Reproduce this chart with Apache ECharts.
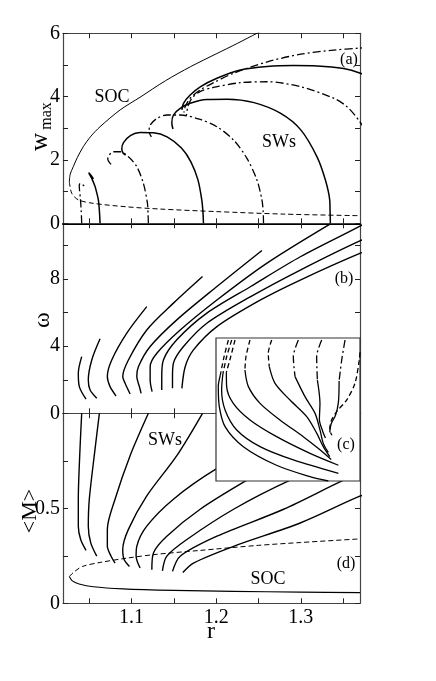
<!DOCTYPE html>
<html><head><meta charset="utf-8">
<script src="https://cdn.jsdelivr.net/npm/echarts@6/dist/echarts.min.js"></script>
<style>html,body{margin:0;padding:0;background:#fff}#c{width:436px;height:681px}</style>
</head><body><div id="c"></div>
<script>
// ---------- axis ticks / labels ----------
const rTicks = [1.05, 1.10, 1.15, 1.20, 1.25, 1.30, 1.35];
const rLabels = [1.1, 1.2, 1.3];
const wTicks = [0, 1, 2, 3, 4, 5, 6];
const wLabels = [0, 2, 4, 6];
const omTicks = [0, 2, 4, 6, 8, 10];
const omLabels = [0, 4, 8];
const mTicks = [0, 0.25, 0.5, 0.75];
const mLabels = [0, 0.5];

// ---------- panel (a): w_max vs r ----------
const socA_upper = [[1.0265,1.31],[1.0275,1.55],[1.0312,1.79],[1.036,2.08],[1.043,2.42],[1.052,2.75],[1.0628,3.05],[1.0865,3.58],[1.11,3.98],[1.14,4.5],[1.17,4.95],[1.2,5.35],[1.225,5.68],[1.2482,6.0],[1.26,6.15]];
const socA_lower = [[1.0265,1.31],[1.0293,0.95],[1.0371,0.74],[1.0549,0.63],[1.0944,0.52],[1.1338,0.45],[1.2,0.37],[1.28,0.29],[1.37,0.24]];
const swA1 = [[1.0411,0],[1.0405,0.4],[1.0395,0.8],[1.0385,1.05],[1.0382,1.2],[1.0395,1.26],[1.043,1.2],[1.046,1.14]];
const swA2 = [[1.0628,0],[1.0620,0.4],[1.0608,0.74],[1.0585,1.0],[1.0569,1.16],[1.053,1.42],[1.050,1.56],[1.0495,1.6],[1.052,1.52],[1.055,1.40]];
const swA3 = [[1.1199,0],[1.1195,0.3],[1.1188,0.63],[1.114,1.26],[1.1062,1.79],[1.0963,2.10],[1.0865,2.26],[1.0785,2.26],[1.0735,2.15],[1.0719,2.02],[1.0745,1.90],[1.0775,1.82]];
const swA4 = [[1.185,0],[1.1843,0.4],[1.183,0.74],[1.1785,1.37],[1.170,1.95],[1.159,2.38],[1.142,2.73],[1.126,2.86],[1.110,2.87],[1.099,2.78],[1.0905,2.55],[1.0885,2.35],[1.090,2.22],[1.093,2.15]];
const swA5 = [[1.256,0],[1.2555,0.4],[1.2541,0.74],[1.2482,1.37],[1.2364,2.05],[1.2206,2.63],[1.2009,3.05],[1.1812,3.28],[1.1575,3.42],[1.1417,3.42],[1.1299,3.31],[1.1220,3.10],[1.1208,2.89],[1.1235,2.73]];
const swA6 = [[1.335,0],[1.3346,0.4],[1.3342,0.74],[1.3291,1.37],[1.3192,2.10],[1.300,2.95],[1.2763,3.47],[1.2448,3.81],[1.2134,3.92],[1.189,3.91],[1.1693,3.79],[1.1575,3.63],[1.1495,3.42],[1.1476,3.16],[1.149,2.98]];
const swA7 = [[1.375,3.0],[1.3685,3.26],[1.3548,3.68],[1.3389,3.95],[1.30,4.31],[1.2606,4.47],[1.2285,4.44],[1.1969,4.29],[1.181,4.16],[1.1713,3.95],[1.1665,3.68],[1.165,3.42]];
const swA8 = [[1.38,4.6],[1.3705,4.74],[1.3507,4.89],[1.3192,4.97],[1.2915,4.98],[1.2601,4.95],[1.2285,4.84],[1.2009,4.58],[1.1812,4.31],[1.1693,4.05],[1.1614,3.79],[1.1595,3.58]];
const swA9 = [[1.38,5.55],[1.3685,5.53],[1.3389,5.47],[1.30,5.34],[1.2606,5.10],[1.2206,4.74],[1.1969,4.44],[1.181,4.21],[1.1693,3.95],[1.1634,3.68],[1.162,3.5]];

// ---------- panel (b): omega vs r ----------
const swB1 = [[1.0411,3.38],[1.0371,2.39],[1.0383,1.59],[1.0462,0.84]];
const swB2 = [[1.0628,4.44],[1.0530,3.18],[1.0489,1.99],[1.0510,1.39],[1.0589,0.90]];
const swB3 = [[1.1180,6.36],[1.0944,4.78],[1.0766,3.18],[1.0714,2.19],[1.0746,1.59],[1.0817,1.03]];
const swB4 = [[1.1839,8.16],[1.1495,6.57],[1.1180,4.97],[1.0963,3.18],[1.0896,2.19],[1.0924,1.79],[1.0983,1.15]];
const swB5 = [[1.2541,9.71],[1.2009,7.56],[1.1535,5.57],[1.1220,3.98],[1.1081,2.78],[1.1062,2.19],[1.1093,1.59],[1.1113,1.19]];
const swB6 = [[1.3350,11.30],[1.2601,8.96],[1.2009,6.76],[1.1575,4.97],[1.1299,3.58],[1.1220,2.78],[1.1220,1.99],[1.1243,1.29]];
const swB7 = [[1.38,11.5],[1.3705,11.18],[1.3,9.35],[1.2408,7.56],[1.1890,5.97],[1.1535,4.38],[1.1377,3.18],[1.1357,2.19],[1.1357,1.39]];
const swB8 = [[1.38,10.4],[1.3705,10.30],[1.3,8.56],[1.2408,6.96],[1.1890,5.37],[1.1614,3.98],[1.1495,2.99],[1.1484,2.19],[1.1484,1.49]];
const swB9 = [[1.38,9.65],[1.3705,9.55],[1.3,7.96],[1.2525,6.76],[1.2009,5.17],[1.1732,3.78],[1.1634,2.78],[1.1595,1.49]];

// ---------- panel (d): <M> vs r ----------
const socD_lower = [[1.0265,0.141],[1.030,0.118],[1.038,0.102],[1.0549,0.087],[1.09,0.076],[1.15,0.068],[1.22,0.063],[1.30,0.059],[1.37,0.056]];
const socD_upper = [[1.0265,0.141],[1.032,0.165],[1.042,0.194],[1.0628,0.215],[1.095,0.238],[1.13,0.258],[1.18,0.278],[1.25,0.305],[1.30,0.32],[1.37,0.339]];
const swD1 = [[1.0411,1.0],[1.0391,0.813],[1.0371,0.548],[1.0371,0.406],[1.0399,0.336],[1.0462,0.279]];
const swD2 = [[1.0620,1.0],[1.0569,0.813],[1.0501,0.548],[1.0489,0.406],[1.0518,0.318],[1.0589,0.248]];
const swD3 = [[1.1199,1.0],[1.0983,0.777],[1.0805,0.548],[1.0714,0.389],[1.0714,0.300],[1.0758,0.248],[1.0805,0.212]];
const swD4 = [[1.1839,1.0],[1.1535,0.777],[1.1180,0.565],[1.0963,0.389],[1.0896,0.283],[1.0912,0.230],[1.0975,0.194]];
const swD5 = [[1.33,1.0],[1.25,0.82],[1.2001,0.707],[1.1495,0.548],[1.1180,0.406],[1.1062,0.300],[1.1054,0.248],[1.1101,0.186]];
const swD6 = [[1.37,0.95],[1.29,0.78],[1.2364,0.648],[1.1811,0.495],[1.1417,0.353],[1.1259,0.265],[1.1240,0.177]];
const swD7 = [[1.37,0.80],[1.2876,0.648],[1.2206,0.495],[1.1654,0.336],[1.1417,0.248],[1.1365,0.171]];
const swD8 = [[1.37,0.68],[1.3507,0.648],[1.2797,0.495],[1.2009,0.353],[1.1575,0.248],[1.1484,0.168]];
const swD9 = [[1.38,0.57],[1.3705,0.565],[1.30,0.424],[1.2206,0.300],[1.1732,0.212],[1.1606,0.162]];

// ---------- inset (c): normalised units ----------
const insA_top = [[0.086,0.986],[0.056,0.869],[0.030,0.74]];
const insA_bot = [[0.030,0.74],[0.016,0.66],[0.023,0.52],[0.063,0.38],[0.19,0.24],[0.42,0.11],[0.653,0.03],[0.78,0.0]];
const insB_top = [[0.109,0.986],[0.074,0.869],[0.048,0.75]];
const insB_bot = [[0.048,0.75],[0.039,0.636],[0.063,0.497],[0.144,0.357],[0.306,0.24],[0.537,0.147],[0.85,0.054]];
const insC_top = [[0.132,0.986],[0.102,0.869],[0.072,0.76]];
const insC_bot = [[0.072,0.76],[0.074,0.66],[0.12,0.543],[0.236,0.427],[0.421,0.31],[0.653,0.193],[0.85,0.11]];
const insD_top = [[0.236,0.986],[0.208,0.869],[0.201,0.776]];
const insD_bot = [[0.201,0.776],[0.225,0.66],[0.306,0.543],[0.444,0.427],[0.606,0.31],[0.72,0.22],[0.80,0.15]];
const insE_top = [[0.387,0.986],[0.363,0.893],[0.37,0.80]];
const insE_bot = [[0.37,0.80],[0.41,0.683],[0.514,0.566],[0.63,0.45],[0.70,0.333],[0.745,0.24],[0.79,0.17]];
const insF_top = [[0.572,0.986],[0.537,0.869],[0.549,0.73]];
const insF_bot = [[0.549,0.73],[0.618,0.59],[0.688,0.473],[0.722,0.357],[0.745,0.263],[0.78,0.20]];
const insG_top = [[0.734,0.986],[0.699,0.869],[0.704,0.706]];
const insG_bot = [[0.704,0.706],[0.722,0.543],[0.718,0.43],[0.74,0.35],[0.76,0.30]];
const insH_top = [[0.896,0.986],[0.873,0.846],[0.855,0.70]];
const insH_bot = [[0.855,0.70],[0.85,0.55],[0.83,0.46],[0.80,0.40],[0.79,0.34]];
const insR = [[1.0,0.90],[0.995,0.846],[0.965,0.683],[0.907,0.566],[0.838,0.485],[0.80,0.42],[0.79,0.36],[0.805,0.32]];

// ---------- build ----------
const FONT = 'Liberation Serif, DejaVu Serif, serif';
const DASHDOT = [8, 3, 2, 3];
const DASHED = [5, 3];
const FRAME = '#444';

function ln(data, ax, type, width, z) {
  return {
    type: 'line', xAxisIndex: ax, yAxisIndex: ax, data: data,
    showSymbol: false, symbol: 'none', smooth: 0.3, silent: true, animation: false,
    clip: true, z: z || 2,
    lineStyle: { color: '#000', width: width || 1.4, type: type || 'solid' }
  };
}

function xAx(gi, pos, labels, lineCfg) {
  return {
    type: 'value', gridIndex: gi, position: pos, min: 1.019, max: 1.37,
    axisLine: { show: true, onZero: false, lineStyle: lineCfg || { color: FRAME, width: 1.2 } },
    axisTick: { show: true, inside: true, length: 5, customValues: rTicks, lineStyle: { color: '#222', width: 1 } },
    axisLabel: labels ? { show: true, customValues: rLabels, formatter: v => v.toFixed(1), fontFamily: FONT, fontSize: 20, color: '#000', margin: 4 } : { show: false },
    splitLine: { show: false }
  };
}
function yAx(gi, pos, min, max, ticks, labels, fmt) {
  return {
    type: 'value', gridIndex: gi, position: pos, min: min, max: max,
    axisLine: { show: true, onZero: false, lineStyle: { color: FRAME, width: 1.2 } },
    axisTick: { show: true, inside: true, length: 5, customValues: ticks, lineStyle: { color: '#222', width: 1 } },
    axisLabel: labels ? { show: true, customValues: labels, formatter: fmt || (v => String(v)), fontFamily: FONT, fontSize: 20, color: '#000', margin: 3 } : { show: false },
    splitLine: { show: false }
  };
}

const L = 63, W = 297;
const grids = [
  { left: L, top: 33.3, width: W, height: 190 },
  { left: L, top: 223.3, width: W, height: 190 },
  { left: L, top: 413.3, width: W, height: 190 },
  { left: 216, top: 338, width: 144, height: 143, show: true, backgroundColor: '#fff', borderColor: '#333', borderWidth: 1.2, z: 10 }
];

const xAxes = [
  xAx(0, 'bottom', false, { color: '#000', width: 2 }), xAx(0, 'top', false),
  xAx(1, 'bottom', false), xAx(1, 'top', false),
  xAx(2, 'bottom', true), xAx(2, 'top', false),
  { type: 'value', gridIndex: 3, min: 0, max: 1, show: false }
];
const yAxes = [
  yAx(0, 'left', 0, 6, wTicks, wLabels), yAx(0, 'right', 0, 6, wTicks, null),
  yAx(1, 'left', 0, 11.33, omTicks, omLabels), yAx(1, 'right', 0, 11.33, omTicks, null),
  yAx(2, 'left', 0, 1.0, mTicks, mLabels, v => (v === 0 ? '0' : String(v))), yAx(2, 'right', 0, 1.0, mTicks, null),
  { type: 'value', gridIndex: 3, min: 0, max: 1, show: false }
];
// map series to axis pair indices: panel a -> 0, b -> 2, d -> 4, inset -> 6
const series = [];
series.push(ln(socA_upper, 0, 'solid', 1.0));
series.push(ln(socA_lower, 0, DASHED, 1.0));
[swA1, swA3, swA5, swA7, swA9].forEach(d => series.push(ln(d, 0, DASHDOT, 1.3)));
[swA2, swA4, swA6, swA8].forEach(d => series.push(ln(d, 0, 'solid', 1.5)));
[swB1, swB2, swB3, swB4, swB5, swB6, swB7, swB8, swB9].forEach(d => series.push(ln(d, 2, 'solid', 1.4)));
series.push(ln(socD_lower, 4, 'solid', 1.1));
series.push(ln(socD_upper, 4, DASHED, 1.0));
[swD1, swD2, swD3, swD4, swD5, swD6, swD7, swD8, swD9].forEach(d => series.push(ln(d, 4, 'solid', 1.4)));
[insA_top, insB_top, insC_top, insD_top, insE_top, insR].forEach(d => series.push(ln(d, 6, DASHED, 1.3, 12)));
[insF_top, insG_top, insH_top].forEach(d => series.push(ln(d, 6, DASHDOT, 1.3, 12)));
[insA_bot, insB_bot, insC_bot, insD_bot, insE_bot, insF_bot, insG_bot, insH_bot].forEach(d => series.push(ln(d, 6, 'solid', 1.3, 12)));

function txt(s, x, y, size, rot, align) {
  return { type: 'text', x: x, y: y, rotation: rot || 0, z: 50,
    style: { text: s, fontFamily: FONT, fontSize: size, fill: '#000', align: align || 'center', verticalAlign: 'middle' } };
}
const graphics = [
  txt('SOC', 112, 97, 18), txt('SWs', 279, 142, 18), txt('(a)', 349, 60, 16),
  txt('(b)', 344, 279, 16), txt('(c)', 346, 445, 16), txt('(d)', 346, 564, 16),
  txt('SWs', 165, 440, 18), txt('SOC', 268, 579, 18),
  txt('w', 40, 142, 25, Math.PI / 2), txt('max', 47, 116, 16, Math.PI / 2),
  txt('ω', 43, 320, 24, Math.PI / 2),
  txt('<M>', 30, 511, 22, Math.PI / 2),
  txt('r', 211, 632, 24)
];

const chart = echarts.init(document.getElementById('c'), null, { renderer: 'canvas' });
chart.setOption({
  animation: false,
  backgroundColor: '#fff',
  grid: grids,
  xAxis: xAxes,
  yAxis: yAxes,
  series: series.map(s => { s.yAxisIndex = s.xAxisIndex; return s; }),
  graphic: graphics
});
</script></body></html>
